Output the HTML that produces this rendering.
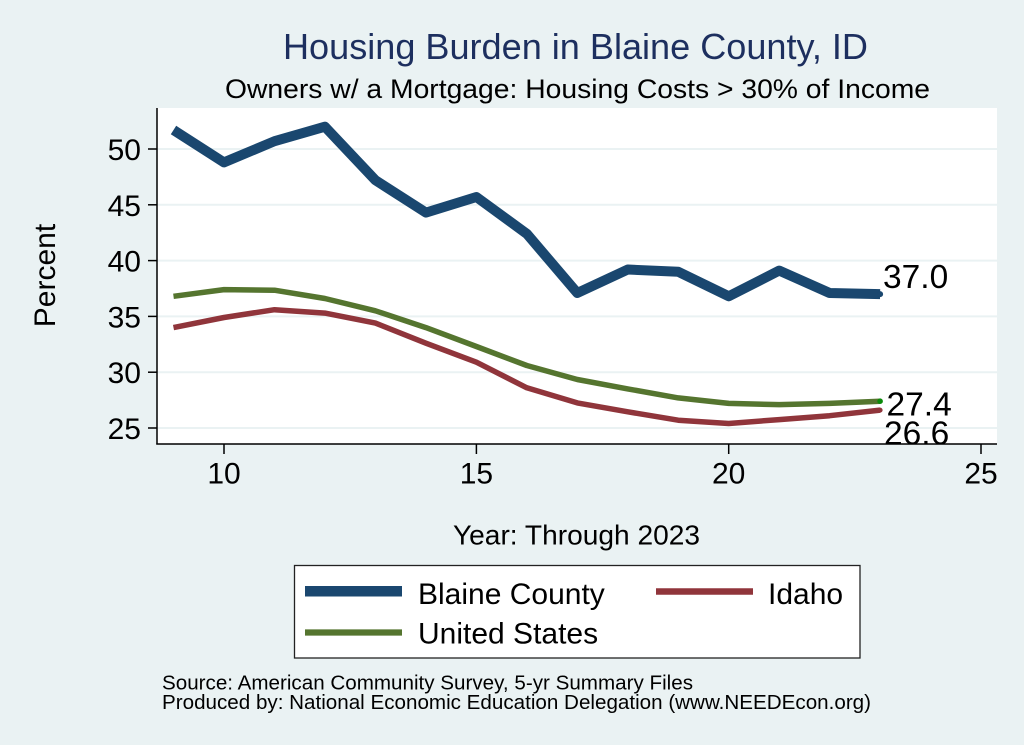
<!DOCTYPE html>
<html>
<head>
<meta charset="utf-8">
<style>
  html, body { margin:0; padding:0; background:#eaf2f3; }
  svg { display:block; }
  text { font-family: "Liberation Sans", Arial, sans-serif; }
</style>
</head>
<body>
<svg width="1024" height="745" viewBox="0 0 1024 745" xmlns="http://www.w3.org/2000/svg">
  <defs>
    <clipPath id="plotclip">
      <rect x="157" y="108" width="840" height="336"/>
    </clipPath>
  </defs>
  <rect x="0" y="0" width="1024" height="745" fill="#eaf2f3"/>

  <!-- Titles -->
  <text x="575.5" y="59" font-size="36" fill="#1d2f5f" text-anchor="middle" textLength="585" lengthAdjust="spacingAndGlyphs">Housing Burden in Blaine County, ID</text>
  <text x="577.5" y="98" font-size="26.5" fill="#000" text-anchor="middle" textLength="705" lengthAdjust="spacingAndGlyphs">Owners w/ a Mortgage: Housing Costs &gt; 30% of Income</text>

  <!-- Plot region -->
  <rect x="157" y="108" width="840" height="336" fill="#ffffff"/>

  <!-- Gridlines -->
  <g stroke="#eaf2f3" stroke-width="2">
    <line x1="157" y1="149" x2="997" y2="149"/>
    <line x1="157" y1="204.8" x2="997" y2="204.8"/>
    <line x1="157" y1="260.6" x2="997" y2="260.6"/>
    <line x1="157" y1="316.4" x2="997" y2="316.4"/>
    <line x1="157" y1="372.2" x2="997" y2="372.2"/>
    <line x1="157" y1="428" x2="997" y2="428"/>
  </g>

  <!-- Series -->
  <g clip-path="url(#plotclip)" fill="none" stroke-linejoin="round">
    <polyline stroke="#55752f" stroke-width="5.5" points="173.5,296.3 224,289.6 274.5,290.2 324.9,298.5 375.4,310.8 425.9,327.6 476.4,346.5 526.8,365.5 577.3,379.5 627.8,388.9 678.2,397.9 728.7,403.4 779.2,404.6 829.6,403.4 880.1,401.2"/>
    <polyline stroke="#90353b" stroke-width="5.5" points="173.5,327.6 224,317.5 274.5,309.7 324.9,313.1 375.4,323.1 425.9,343.2 476.4,362.2 526.8,387.8 577.3,402.9 627.8,411.8 678.2,420.2 728.7,423.5 779.2,419.6 829.6,415.7 880.1,410.1"/>
    <polyline stroke="#1a476f" stroke-width="10" points="173.5,130 224,162.4 274.5,141.2 324.9,126.7 375.4,180.2 425.9,212.6 476.4,197 526.8,233.8 577.3,293 627.8,269.5 678.2,271.8 728.7,296.3 779.2,270.6 829.6,293 880.1,294.1"/>
    <circle cx="880.1" cy="294.1" r="3" fill="#1a476f"/>
    <circle cx="880.1" cy="410.1" r="2.5" fill="#90353b"/>
    <circle cx="880.1" cy="401.2" r="2.8" fill="#0a8a0a"/>
    <!-- value labels -->
    <text x="883" y="288" font-size="33.5" fill="#000" stroke="none">37.0</text>
    <text x="886.5" y="415.5" font-size="33.5" fill="#000" stroke="none">27.4</text>
    <text x="884" y="444.5" font-size="33.5" fill="#000" stroke="none">26.6</text>
  </g>

  <!-- Axes -->
  <g stroke="#000" stroke-width="1.5">
    <line x1="157" y1="108" x2="157" y2="444.5"/>
    <line x1="156.3" y1="444" x2="997" y2="444"/>
    <!-- y ticks -->
    <line x1="148" y1="149" x2="157" y2="149"/>
    <line x1="148" y1="204.8" x2="157" y2="204.8"/>
    <line x1="148" y1="260.6" x2="157" y2="260.6"/>
    <line x1="148" y1="316.4" x2="157" y2="316.4"/>
    <line x1="148" y1="372.2" x2="157" y2="372.2"/>
    <line x1="148" y1="428" x2="157" y2="428"/>
    <!-- x ticks -->
    <line x1="224" y1="444" x2="224" y2="454"/>
    <line x1="476.4" y1="444" x2="476.4" y2="454"/>
    <line x1="728.7" y1="444" x2="728.7" y2="454"/>
    <line x1="981" y1="444" x2="981" y2="454"/>
  </g>

  <!-- Y tick labels -->
  <g font-size="30" fill="#000" text-anchor="end">
    <text x="141" y="160">50</text>
    <text x="141" y="215.8">45</text>
    <text x="141" y="271.6">40</text>
    <text x="141" y="327.4">35</text>
    <text x="141" y="383.2">30</text>
    <text x="141" y="439">25</text>
  </g>
  <!-- X tick labels -->
  <g font-size="30" fill="#000" text-anchor="middle">
    <text x="224" y="483.5">10</text>
    <text x="476.4" y="483.5">15</text>
    <text x="728.7" y="483.5">20</text>
    <text x="981" y="483.5">25</text>
  </g>

  <!-- Axis titles -->
  <text x="55" y="275.5" font-size="30" fill="#000" text-anchor="middle" transform="rotate(-90 55 275.5)">Percent</text>
  <text x="576.5" y="544.3" font-size="27.5" fill="#000" text-anchor="middle" textLength="247" lengthAdjust="spacingAndGlyphs">Year: Through 2023</text>

  <!-- Legend -->
  <rect x="294.5" y="565.5" width="565.5" height="92.5" fill="#ffffff" stroke="#222" stroke-width="1.3"/>
  <line x1="305" y1="591.3" x2="402" y2="591.3" stroke="#1a476f" stroke-width="10.5"/>
  <text x="418" y="604" font-size="30" fill="#000">Blaine County</text>
  <line x1="656" y1="591.5" x2="753" y2="591.5" stroke="#90353b" stroke-width="6.5"/>
  <text x="768" y="604" font-size="30" fill="#000">Idaho</text>
  <line x1="305" y1="632.5" x2="402" y2="632.5" stroke="#55752f" stroke-width="6.3"/>
  <text x="418" y="643.5" font-size="30" fill="#000">United States</text>

  <!-- Notes -->
  <text x="162" y="689.3" font-size="20" fill="#000" textLength="531" lengthAdjust="spacingAndGlyphs">Source: American Community Survey, 5-yr Summary Files</text>
  <text x="162" y="709" font-size="20" fill="#000" textLength="709" lengthAdjust="spacingAndGlyphs">Produced by: National Economic Education Delegation (www.NEEDEcon.org)</text>
</svg>
</body>
</html>
